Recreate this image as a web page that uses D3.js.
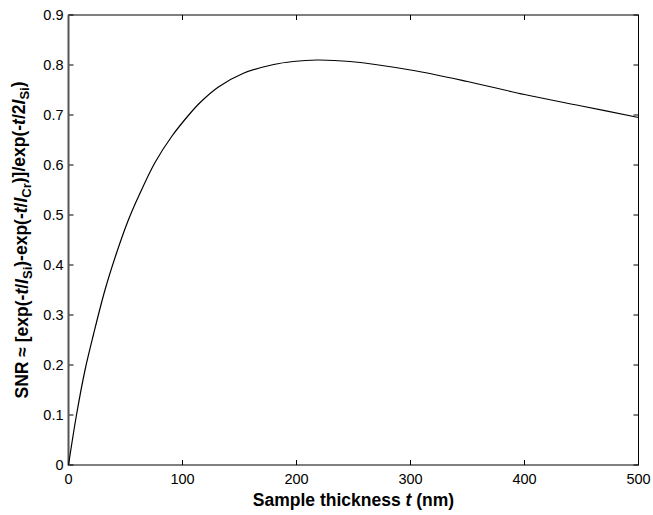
<!DOCTYPE html>
<html>
<head>
<meta charset="utf-8">
<script src="https://cdn.jsdelivr.net/npm/d3@7"></script>
<style>
  body { margin: 0; background: #fff; }
  text { font-family: "Liberation Sans", Arial, sans-serif; fill: #000; }
</style>
</head>
<body>
<script>
// curve: sample thickness (nm) vs SNR
var thickness = [0, 7, 14.5, 21.8, 32, 42.3, 52.5, 62, 75.9, 90.5, 106.6, 115.5, 131.5, 153, 180, 197, 218, 247, 300, 350, 400, 450, 500];
var snr       = [0, 0.1, 0.19, 0.26, 0.35, 0.425, 0.49, 0.54, 0.605, 0.657, 0.703, 0.725, 0.756, 0.783, 0.801, 0.807, 0.81, 0.807, 0.79, 0.767, 0.741, 0.718, 0.695];
var xTicks = [0, 100, 200, 300, 400, 500];
var yTicks = [0, 0.1, 0.2, 0.3, 0.4, 0.5, 0.6, 0.7, 0.8, 0.9];

var width = 653, height = 515;
var margin = {top: 15, right: 14.5, bottom: 50, left: 68.5};

var svg = d3.select("body").append("svg")
    .attr("width", width)
    .attr("height", height);

var x = d3.scaleLinear().domain([0, 500]).range([margin.left, width - margin.right]);
var y = d3.scaleLinear().domain([0, 0.9]).range([height - margin.bottom, margin.top]);

var data = thickness.map(function(t, i) { return {t: t, v: snr[i]}; });

// frame
svg.append("rect")
    .attr("x", x(0)).attr("y", y(0.9))
    .attr("width", x(500) - x(0)).attr("height", y(0) - y(0.9))
    .attr("fill", "none").attr("stroke", "#000").attr("stroke-width", 1);

// inward ticks on all sides
var tk = 5;
svg.append("g").selectAll("line").data(xTicks).enter().append("line")
    .attr("x1", function(d) { return x(d); }).attr("x2", function(d) { return x(d); })
    .attr("y1", y(0)).attr("y2", y(0) - tk).attr("stroke", "#000");
svg.append("g").selectAll("line").data(xTicks).enter().append("line")
    .attr("x1", function(d) { return x(d); }).attr("x2", function(d) { return x(d); })
    .attr("y1", y(0.9)).attr("y2", y(0.9) + tk).attr("stroke", "#000");
svg.append("g").selectAll("line").data(yTicks).enter().append("line")
    .attr("y1", function(d) { return y(d); }).attr("y2", function(d) { return y(d); })
    .attr("x1", x(0)).attr("x2", x(0) + tk).attr("stroke", "#000");
svg.append("g").selectAll("line").data(yTicks).enter().append("line")
    .attr("y1", function(d) { return y(d); }).attr("y2", function(d) { return y(d); })
    .attr("x1", x(500)).attr("x2", x(500) - tk).attr("stroke", "#000");

// left axis line is drawn heavier, grey
svg.append("line")
    .attr("x1", x(0)).attr("x2", x(0))
    .attr("y1", y(0) + 0.5).attr("y2", y(0.9))
    .attr("stroke", "#555").attr("stroke-width", 2);

// tick labels
svg.append("g").selectAll("text").data(xTicks).enter().append("text")
    .attr("x", function(d) { return x(d); })
    .attr("y", y(0) + 19)
    .attr("text-anchor", "middle")
    .style("font-size", "14.5px")
    .text(function(d) { return d; });
svg.append("g").selectAll("text").data(yTicks).enter().append("text")
    .attr("x", x(0) - 5)
    .attr("y", function(d) { return y(d); })
    .attr("dy", "0.36em")
    .attr("text-anchor", "end")
    .style("font-size", "14.5px")
    .text(function(d) { return d === 0 ? "0" : d3.format(".1f")(d); });

// curve
var line = d3.line()
    .x(function(d) { return x(d.t); })
    .y(function(d) { return y(d.v); })
    .curve(d3.curveCatmullRom.alpha(0.5));
svg.append("path")
    .datum(data)
    .attr("d", line)
    .attr("fill", "none")
    .attr("stroke", "#000")
    .attr("stroke-width", 1.2);

// x title
var xt = svg.append("text")
    .attr("x", (x(0) + x(500)) / 2)
    .attr("y", 506)
    .attr("text-anchor", "middle")
    .style("font-size", "17.5px")
    .style("font-weight", "bold");
xt.append("tspan").text("Sample thickness ");
xt.append("tspan").style("font-style", "italic").text("t");
xt.append("tspan").text(" (nm)");

// y title
var yt = svg.append("text")
    .attr("transform", "translate(28," + ((y(0) + y(0.9)) / 2) + ") rotate(-90)")
    .attr("text-anchor", "middle")
    .style("font-size", "17.5px")
    .style("font-weight", "bold");
var parts = [
  ["SNR \u2248 [exp(-", null], ["t", "i"], ["/", null], ["l", "i"], ["Si", "s"],
  [")-exp(-", null], ["t", "i"], ["/", null], ["l", "i"], ["Cr", "s"],
  [")]/exp(-", null], ["t", "i"], ["/2", null], ["l", "i"], ["Si", "s"], [")", null]
];
var prevSub = false;
parts.forEach(function(p) {
  var ts = yt.append("tspan").text(p[0]);
  if (p[1] === "i") ts.style("font-style", "italic");
  if (p[1] === "s") {
    ts.attr("dy", "0.3em").style("font-size", "13px");
    prevSub = true;
  } else if (prevSub) {
    ts.attr("dy", "-0.3em");
    prevSub = false;
  }
});
</script>
</body>
</html>
